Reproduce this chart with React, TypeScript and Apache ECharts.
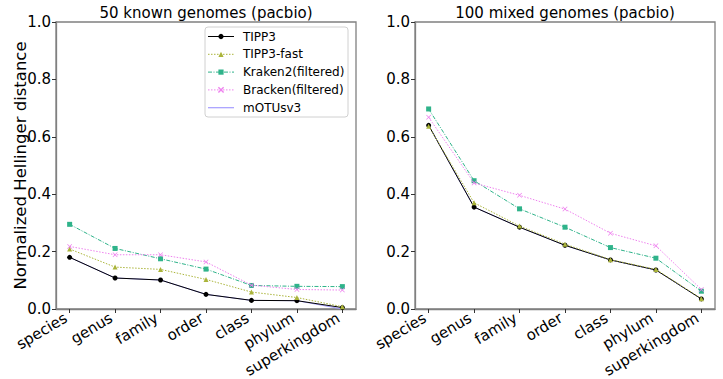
import React, { useEffect, useRef } from "react";
import * as echarts from "echarts";

const categories = ["species", "genus", "family", "order", "class", "phylum", "superkingdom"];
const titles = ["50 known genomes (pacbio)", "100 mixed genomes (pacbio)"];

const tipp3Left = [0.18, 0.108, 0.101, 0.051, 0.03, 0.029, 0.005];
const tipp3FastLeft = [0.209, 0.146, 0.138, 0.103, 0.059, 0.04, 0.008];
const krakenLeft = [0.295, 0.211, 0.175, 0.139, 0.082, 0.079, 0.078];
const brackenLeft = [0.218, 0.189, 0.189, 0.164, 0.083, 0.068, 0.066];
const motuLeft = [0.18, 0.108, 0.101, 0.051, 0.03, 0.029, 0.0];

const tipp3Right = [0.64, 0.355, 0.285, 0.222, 0.171, 0.136, 0.035];
const tipp3FastRight = [0.637, 0.37, 0.289, 0.226, 0.172, 0.138, 0.036];
const krakenRight = [0.697, 0.447, 0.349, 0.285, 0.214, 0.177, 0.062];
const brackenRight = [0.668, 0.439, 0.396, 0.348, 0.264, 0.22, 0.068];
const motuRight = [0.64, 0.355, 0.285, 0.222, 0.171, 0.136, 0.035];

const legendOrder = ["TIPP3", "TIPP3-fast", "Kraken2(filtered)", "Bracken(filtered)", "mOTUsv3"];

const FONT = "DejaVu Sans";
const X_SYMBOL = "path://M0,1L1,0L5,4L9,0L10,1L6,5L10,9L9,10L5,6L1,10L0,9L4,5Z";

const methods: any[] = [
  { name: "mOTUsv3", color: "#a49cff", type: "solid", dash: null, symbol: "none", size: 0, left: motuLeft, right: motuRight, z: 1 },
  { name: "TIPP3", color: "#000000", type: "solid", dash: null, symbol: "circle", size: 5, left: tipp3Left, right: tipp3Right, z: 2 },
  { name: "TIPP3-fast", color: "#aab43a", type: [1.5, 1.5], dash: [1.5, 1.5], symbol: "triangle", size: 5, left: tipp3FastLeft, right: tipp3FastRight, z: 3 },
  { name: "Kraken2(filtered)", color: "#2fb38a", type: [4, 1.5, 1, 1.5], dash: [4, 1.5, 1, 1.5], symbol: "rect", size: 5, left: krakenLeft, right: krakenRight, z: 4 },
  { name: "Bracken(filtered)", color: "#ee82ee", type: [1.5, 1.5], dash: [1.5, 1.5], symbol: X_SYMBOL, size: 5, left: brackenLeft, right: brackenRight, z: 5 },
];

function legendMarker(m: any, cx: number, cy: number) {
  const s = 2.6;
  if (m.symbol === "circle") return { type: "circle", shape: { cx, cy, r: s }, style: { fill: m.color }, z: 101 };
  if (m.symbol === "rect") return { type: "rect", shape: { x: cx - s, y: cy - s, width: 2 * s, height: 2 * s }, style: { fill: m.color }, z: 101 };
  if (m.symbol === "triangle")
    return { type: "polygon", shape: { points: [[cx, cy - s], [cx + s, cy + s], [cx - s, cy + s]] }, style: { fill: m.color }, z: 101 };
  if (m.symbol === X_SYMBOL)
    return {
      type: "group",
      z: 101,
      children: [
        { type: "line", shape: { x1: cx - s, y1: cy - s, x2: cx + s, y2: cy + s }, style: { stroke: m.color, lineWidth: 1.4 }, z: 101 },
        { type: "line", shape: { x1: cx - s, y1: cy + s, x2: cx + s, y2: cy - s }, style: { stroke: m.color, lineWidth: 1.4 }, z: 101 },
      ],
    };
  return null;
}

export default function App() {
  const ref = useRef<HTMLDivElement>(null);
  useEffect(() => {
    document.body.style.margin = "0";
    const chart = echarts.init(ref.current!, null, { renderer: "svg" });
    const gridLefts = [56, 415];
    const frame = { color: "#808080", width: 1.3 };
    const grids = gridLefts.map((l) => ({
      left: l,
      top: 22,
      width: 300,
      height: 287,
      show: true,
      containLabel: false,
      outerBoundsMode: "none",
      borderColor: frame.color,
      borderWidth: frame.width,
      backgroundColor: "transparent",
    }));
    const xAxes = [0, 1].map((i) => ({
      type: "value",
      gridIndex: i,
      position: "bottom",
      min: -0.3,
      max: 6.3,
      splitLine: { show: false },
      axisLine: { show: true, onZero: false, lineStyle: { color: frame.color, width: frame.width } },
      axisTick: { show: true, customValues: [0, 1, 2, 3, 4, 5, 6], length: 4, inside: false, lineStyle: { color: "#333" } },
      axisLabel: {
        customValues: [0, 1, 2, 3, 4, 5, 6],
        formatter: (v: number) => categories[Math.round(v)],
        rotate: 31,
        align: "right",
        verticalAlign: "bottom",
        margin: 14,
        fontSize: 15,
        fontFamily: FONT,
        color: "#000",
      },
    }));
    const yAxes = [0, 1].map((i) => ({
      type: "value",
      gridIndex: i,
      position: "left",
      min: 0,
      max: 1,
      interval: 0.2,
      splitLine: { show: false },
      axisLine: { show: true, onZero: false, lineStyle: { color: frame.color, width: frame.width } },
      axisTick: { show: true, length: 4, inside: false, lineStyle: { color: "#333" } },
      axisLabel: {
        formatter: (v: number) => v.toFixed(1),
        margin: 5,
        fontSize: 15,
        fontFamily: FONT,
        color: "#000",
      },
      name: i === 0 ? "Normalized Hellinger distance" : "",
      nameLocation: "middle",
      nameRotate: 90,
      nameGap: 27,
      nameMoveOverlap: false,
      nameTextStyle: { fontSize: 16.5, fontFamily: FONT, color: "#000" },
    }));
    const series: any[] = [];
    [0, 1].forEach((gi) => {
      methods.forEach((m) => {
        const vals = gi === 0 ? m.left : m.right;
        series.push({
          type: "line",
          name: m.name,
          xAxisIndex: gi,
          yAxisIndex: gi,
          data: vals.map((v: number, k: number) => [k, v]),
          symbol: m.symbol,
          symbolSize: m.size,
          showSymbol: m.symbol !== "none",
          z: m.z,
          lineStyle: { color: m.color, width: 1, type: m.type },
          itemStyle: { color: m.color, borderWidth: 0 },
        });
      });
    });

    const legendX = 205;
    const legendY = 27;
    const rowH = 17.8;
    const legendItems: any[] = [
      {
        type: "rect",
        shape: { x: legendX, y: legendY, width: 143, height: 90, r: 3 },
        style: { fill: "#fff", stroke: "#d0d0d0", lineWidth: 1 },
        z: 100,
      },
    ];
    legendOrder.forEach((name, i) => {
      const m = methods.find((mm) => mm.name === name);
      const cy = legendY + 9.5 + i * rowH;
      legendItems.push({
        type: "line",
        shape: { x1: legendX + 3, y1: cy, x2: legendX + 29, y2: cy },
        style: { stroke: m.color, lineWidth: m.name === "mOTUsv3" ? 1.2 : 1, lineDash: m.dash || undefined },
        z: 101,
      });
      const mk = legendMarker(m, legendX + 16, cy);
      if (mk) legendItems.push(mk);
      legendItems.push({
        type: "text",
        x: legendX + 38,
        y: cy,
        style: { text: name, font: `12px "${FONT}"`, fill: "#000", align: "left", verticalAlign: "middle" },
        z: 101,
      });
    });

    chart.setOption({
      animation: false,
      backgroundColor: "#fff",
      grid: grids,
      xAxis: xAxes,
      yAxis: yAxes,
      series,
      graphic: [
        ...titles.map((t, i) => ({
          type: "text",
          x: gridLefts[i] + 150,
          y: 5,
          style: { text: t, font: `15px "${FONT}"`, fill: "#000", align: "center", verticalAlign: "top" },
        })),
        ...legendItems,
      ],
    });
    return () => chart.dispose();
  }, []);
  return <div ref={ref} style={{ width: 723, height: 379 }} />;
}
